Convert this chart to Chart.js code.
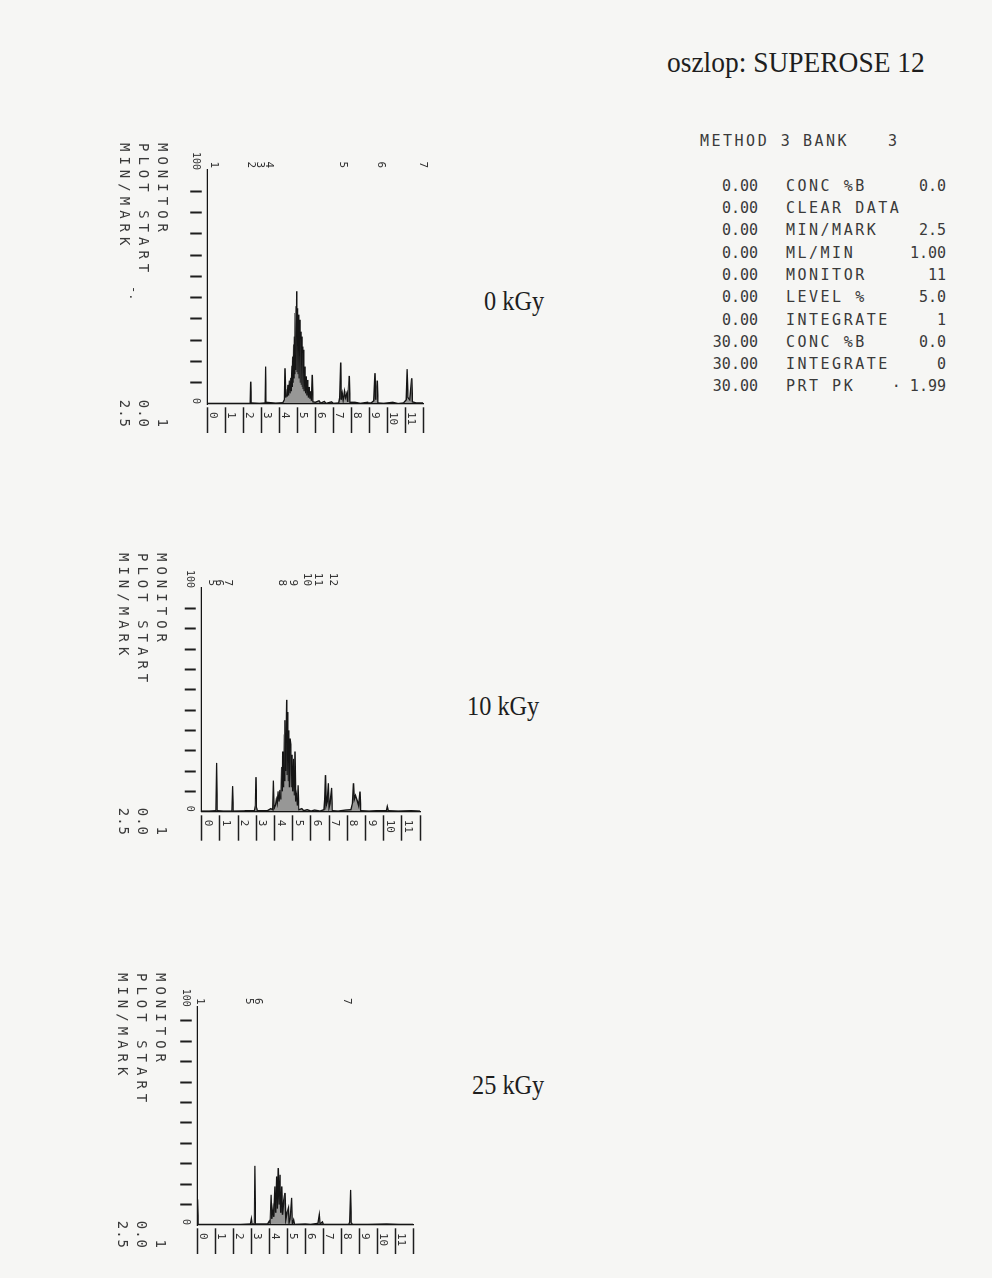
<!DOCTYPE html>
<html><head><meta charset="utf-8">
<script src="https://cdn.jsdelivr.net/npm/chart.js@4.4.1/dist/chart.umd.min.js"></script>
<style>
html,body{margin:0;padding:0;}
body{width:992px;height:1278px;position:relative;overflow:hidden;background:#f6f6f4;}
.serif{position:absolute;font-family:"Liberation Serif","DejaVu Serif",serif;color:#1e1e1e;white-space:nowrap;transform-origin:0 0;line-height:1;}
.mono{font-family:"DejaVu Sans Mono","Liberation Mono",monospace;color:#3a3a3a;}
.m{position:absolute;font-size:15px;letter-spacing:2.5px;line-height:22px;white-space:pre;}
.m.n{letter-spacing:0;}
.panel{position:absolute;transform-origin:0 0;transform:rotate(90deg);}
.panel canvas{position:absolute;left:0;top:0;display:block;}
.hdr{position:absolute;font-size:14px;letter-spacing:5px;line-height:19px;}
.hdr div{position:relative;height:19px;white-space:nowrap;}
.hdr .v{position:absolute;right:0;top:0;letter-spacing:1px;}
</style></head>
<body>
<div class="serif" style="left:667px;top:47px;font-size:30px;transform:scaleX(0.915)">oszlop: SUPEROSE 12</div>

<div class="mono">
<span class="m" style="left:700px;top:130px">METHOD 3</span><span class="m" style="left:803px;top:130px">BANK</span><span class="m" style="left:888px;top:130px">3</span>
<span class="m n" style="right:234px;top:175px">0.00</span><span class="m" style="left:786px;top:175px">CONC %B</span><span class="m n" style="right:46px;top:175px">0.0</span>
<span class="m n" style="right:234px;top:197px">0.00</span><span class="m" style="left:786px;top:197px">CLEAR DATA</span>
<span class="m n" style="right:234px;top:219px">0.00</span><span class="m" style="left:786px;top:219px">MIN/MARK</span><span class="m n" style="right:46px;top:219px">2.5</span>
<span class="m n" style="right:234px;top:242px">0.00</span><span class="m" style="left:786px;top:242px">ML/MIN</span><span class="m n" style="right:46px;top:242px">1.00</span>
<span class="m n" style="right:234px;top:264px">0.00</span><span class="m" style="left:786px;top:264px">MONITOR</span><span class="m n" style="right:46px;top:264px">11</span>
<span class="m n" style="right:234px;top:286px">0.00</span><span class="m" style="left:786px;top:286px">LEVEL %</span><span class="m n" style="right:46px;top:286px">5.0</span>
<span class="m n" style="right:234px;top:309px">0.00</span><span class="m" style="left:786px;top:309px">INTEGRATE</span><span class="m n" style="right:46px;top:309px">1</span>
<span class="m n" style="right:234px;top:331px">30.00</span><span class="m" style="left:786px;top:331px">CONC %B</span><span class="m n" style="right:46px;top:331px">0.0</span>
<span class="m n" style="right:234px;top:353px">30.00</span><span class="m" style="left:786px;top:353px">INTEGRATE</span><span class="m n" style="right:46px;top:353px">0</span>
<span class="m n" style="right:234px;top:375px">30.00</span><span class="m" style="left:786px;top:375px">PRT PK</span><span class="m n" style="right:46px;top:375px">· 1.99</span>
</div>

<div class="serif" style="left:484px;top:288px;font-size:27px;transform:scaleX(0.9)">0 kGy</div>
<div class="serif" style="left:467px;top:693px;font-size:27px;transform:scaleX(0.9)">10 kGy</div>
<div class="serif" style="left:472px;top:1072px;font-size:27px;transform:scaleX(0.9)">25 kGy</div>

<div class="panel" style="left:440px;top:140px;width:300px;height:340px;">
  <canvas id="c1" width="300" height="340" style="width:300px;height:340px"></canvas>
  <div class="hdr mono" style="left:3px;top:268px;width:285px;"><div>MONITOR<span class="v">1</span></div><div>PLOT START<span class="v">0.0</span></div><div>MIN/MARK<span class="v">2.5</span></div></div>
  <span class="mono" style="position:absolute;left:146px;top:299px;font-size:12px;">-.</span>
</div>

<div class="panel" style="left:440px;top:548px;width:300px;height:340px;">
  <canvas id="c2" width="300" height="340" style="width:300px;height:340px"></canvas>
  <div class="hdr mono" style="left:5px;top:269px;width:283px;"><div>MONITOR<span class="v">1</span></div><div>PLOT START<span class="v">0.0</span></div><div>MIN/MARK<span class="v">2.5</span></div></div>
</div>

<div class="panel" style="left:430px;top:966px;width:300px;height:340px;">
  <canvas id="c3" width="300" height="340" style="width:300px;height:340px"></canvas>
  <div class="hdr mono" style="left:7px;top:260px;width:276px;"><div>MONITOR<span class="v">1</span></div><div>PLOT START<span class="v">0.0</span></div><div>MIN/MARK<span class="v">2.5</span></div></div>
</div>

<script>
const MONO = '"DejaVu Sans Mono", "Liberation Mono", monospace';

// time axis (marks, 1 mark = 2.5 min)
const timeTicks = [0,1,2,3,4,5,6,7,8,9,10,11,12];
const timeLabels = ['0','1','2','3','4','5','6','7','8','9','10','11',''];
// monitor (%) axis
const intensityTicks = [0,10,20,30,40,50,60,70,80,90,100];
const intensityLabelZero = '0';
const intensityLabelTop = '100';

// ---- 0 kGy ----
const p1Time = [0.00,0.30,1.00,1.80,2.38,2.41,2.44,2.90,3.21,3.24,3.27,3.80,4.20,4.28,4.32,4.36,4.40,4.44,4.48,4.52,4.56,4.60,4.63,4.66,4.70,4.72,4.74,4.77,4.80,4.82,4.84,4.86,4.88,4.90,4.93,4.95,4.97,4.99,5.02,5.05,5.08,5.11,5.15,5.18,5.21,5.23,5.26,5.29,5.31,5.33,5.36,5.39,5.43,5.46,5.50,5.54,5.58,5.62,5.66,5.70,5.74,5.78,5.83,5.87,6.00,6.20,6.30,6.50,6.60,6.90,7.00,7.30,7.36,7.41,7.44,7.50,7.55,7.62,7.68,7.75,7.80,7.89,7.93,8.20,8.50,8.90,9.10,9.25,9.32,9.36,9.44,9.48,9.80,10.30,10.60,10.90,11.05,11.10,11.15,11.25,11.36,11.40,11.60,12.00];
const p1Signal = [0.3,0.3,0.2,0.3,0.3,10.5,0.5,0.3,0.5,17.6,0.8,0.4,0.6,2.0,16.8,3.0,7.0,3.5,9.0,4.0,11.0,5.0,12.3,6.0,18.0,8.0,22.3,10.0,28.0,12.0,31.7,14.0,42.8,16.0,46.0,18.0,53.0,15.0,45.0,14.0,42.0,12.0,39.6,10.0,34.0,9.0,31.7,8.0,27.0,7.0,25.5,6.0,17.6,5.0,13.0,4.0,11.3,3.0,8.0,2.5,6.0,1.5,13.7,1.0,0.8,1.5,0.4,1.2,0.3,1.0,0.3,0.5,3.0,19.5,2.0,5.0,2.0,6.0,3.0,5.0,1.0,13.2,0.5,0.8,0.3,0.8,0.5,1.5,14.5,2.0,11.0,0.5,0.3,0.8,0.2,0.5,2.0,16.4,3.0,2.0,12.1,1.0,0.5,0.5];
const p1PeakTimes = [0.37,2.43,2.93,3.40,7.54,9.65,11.95];
const p1PeakLabels = ['1','2','3','4','5','6','7'];

// ---- 10 kGy ----
const p2Time = [0.00,0.40,0.78,0.82,0.86,1.20,1.66,1.70,1.74,2.40,2.90,2.95,2.98,3.02,3.06,3.60,3.80,3.90,3.94,3.97,4.05,4.10,4.15,4.20,4.25,4.30,4.35,4.40,4.43,4.45,4.50,4.54,4.56,4.58,4.62,4.67,4.70,4.73,4.76,4.79,4.82,4.86,4.90,4.93,4.97,5.00,5.06,5.10,5.13,5.17,5.22,5.26,5.30,5.34,5.50,5.60,5.80,6.00,6.20,6.50,6.72,6.76,6.80,6.84,6.90,6.96,7.00,7.05,7.14,7.18,7.50,7.90,8.20,8.28,8.34,8.38,8.45,8.50,8.56,8.62,8.70,8.74,9.20,9.60,10.15,10.20,10.25,10.80,11.50,12.00];
const p2Signal = [0.3,0.3,0.5,24.0,0.5,0.3,0.3,12.6,0.3,0.4,0.5,3.0,17.0,2.0,0.5,0.5,1.5,1.0,15.3,1.5,3.0,6.0,4.0,10.0,5.0,10.7,6.0,22.0,10.0,29.6,12.0,38.0,15.0,45.0,20.0,55.0,18.0,49.0,15.0,40.0,12.0,36.0,33.0,12.0,28.0,10.0,26.0,8.0,29.6,5.0,8.0,3.0,13.0,1.0,1.5,0.5,1.0,0.3,0.8,0.3,1.0,6.0,18.0,3.0,5.0,14.0,2.0,4.0,11.7,0.5,0.3,0.8,1.0,4.0,14.0,6.0,8.0,6.7,5.0,3.0,9.9,0.5,0.3,0.5,0.5,2.5,0.5,0.3,0.5,0.3];
const p2PeakTimes = [0.55,0.95,1.46,4.41,5.02,5.79,6.39,7.21];
const p2PeakLabels = ['5','6','7','8','9','10','11','12'];

// ---- 25 kGy ----
const p3Time = [0.00,0.02,0.05,0.60,1.50,2.40,2.95,3.00,3.04,3.17,3.20,3.23,3.90,4.00,4.05,4.10,4.14,4.20,4.25,4.32,4.36,4.41,4.45,4.50,4.55,4.60,4.64,4.69,4.73,4.80,4.87,4.92,4.98,5.06,5.10,5.16,5.24,5.28,5.35,5.40,6.00,6.30,6.70,6.78,6.82,6.95,7.00,8.40,8.47,8.52,8.56,8.62,9.50,10.50,11.20,12.00];
const p3Signal = [0.3,12.6,0.3,0.3,0.2,0.3,0.5,3.0,0.5,0.5,29.0,0.5,0.5,2.0,1.0,14.8,3.0,8.0,4.0,18.9,6.0,23.8,8.0,27.9,10.0,24.6,6.0,18.9,5.0,12.0,15.7,3.0,6.0,8.4,1.0,3.0,13.3,0.5,2.5,0.3,0.5,0.3,0.8,5.0,0.5,1.5,0.3,0.3,1.5,17.2,1.0,0.3,0.3,0.5,0.3,0.3];
const p3PeakTimes = [0.15,2.85,3.35,8.30];
const p3PeakLabels = ['1','5','6','7'];

function makePanel(id, times, values, peakTimes, peakLabels, g) {
  const pts = times.map((t, i) => ({x: values[i], y: t}));
  new Chart(document.getElementById(id), {
    type: 'scatter',
    data: {datasets: [{data: pts, showLine: true, borderColor: '#151515', borderWidth: 1.4,
      fill: 'origin', backgroundColor: 'rgba(20,20,20,0.42)',
      pointRadius: 0, xAxisID: 'x', yAxisID: 'y'}]},
    options: {
      indexAxis: 'y',
      responsive: false, animation: false, devicePixelRatio: 1,
      layout: {padding: {top: g.top, left: 0, right: 0, bottom: 0}},
      plugins: {legend: {display: false}, tooltip: {enabled: false}, filler: {propagate: false}},
      scales: {
        x: {type: 'linear', position: 'bottom', reverse: true, min: 0, max: g.max,
          afterBuildTicks: s => { s.ticks = intensityTicks.concat([g.max]).map(v => ({value: v})); },
          afterFit: s => { s.height = g.H - g.bottom; },
          ticks: {autoSkip: false, maxRotation: 0, minRotation: 0, align: 'end', padding: -11,
            callback: v => v === 0 ? intensityLabelZero : (v === g.max ? intensityLabelTop : ''),
            font: {family: MONO, size: 10}, color: '#333'},
          grid: {display: true, drawOnChartArea: false, drawTicks: true, tickLength: 17, tickWidth: 2,
            tickBorderDash: [0, 5, 12, 100],
            tickColor: c => (c.tick && c.tick.value >= 10 && c.tick.value <= 100) ? '#1e1e1e' : 'rgba(0,0,0,0)'},
          border: {display: true, color: '#151515', width: 1.3}},
        y: {type: 'linear', position: 'right', min: 0, max: 12,
          afterBuildTicks: s => { s.ticks = timeTicks.map(v => ({value: v})); },
          afterFit: s => { s.width = g.W - g.right; },
          ticks: {autoSkip: false, padding: -21, labelOffset: -6,
            callback: (v, i) => timeLabels[i], font: {family: MONO, size: 11}, color: '#333'},
          grid: {display: true, drawOnChartArea: false, drawTicks: true, tickLength: 29, tickWidth: 1.3,
            tickBorderDash: [0, 3, 26, 100], tickColor: '#1e1e1e'},
          border: {display: true, color: '#151515', width: 1.3}},
        p: {type: 'linear', position: 'left', min: 0, max: 12,
          afterBuildTicks: s => { s.ticks = peakTimes.map(v => ({value: v})); },
          afterFit: s => { s.width = g.left; },
          ticks: {autoSkip: false, padding: 2, callback: (v, i) => peakLabels[i],
            font: {family: MONO, size: 11}, color: '#333'},
          grid: {display: false, drawTicks: false}, border: {display: false}}
      }
    }
  });
}

makePanel('c1', p1Time, p1Signal, p1PeakTimes, p1PeakLabels,
  {W: 300, H: 340, left: 30, right: 264, top: 16.7, bottom: 232.7, max: 110});
makePanel('c2', p2Time, p2Signal, p2PeakTimes, p2PeakLabels,
  {W: 300, H: 340, left: 40, right: 263.7, top: 19.9, bottom: 238.3, max: 110});
makePanel('c3', p3Time, p3Signal, p3PeakTimes, p3PeakLabels,
  {W: 300, H: 340, left: 40.7, right: 259, top: 16.7, bottom: 232.7, max: 107});
</script>
</body></html>
